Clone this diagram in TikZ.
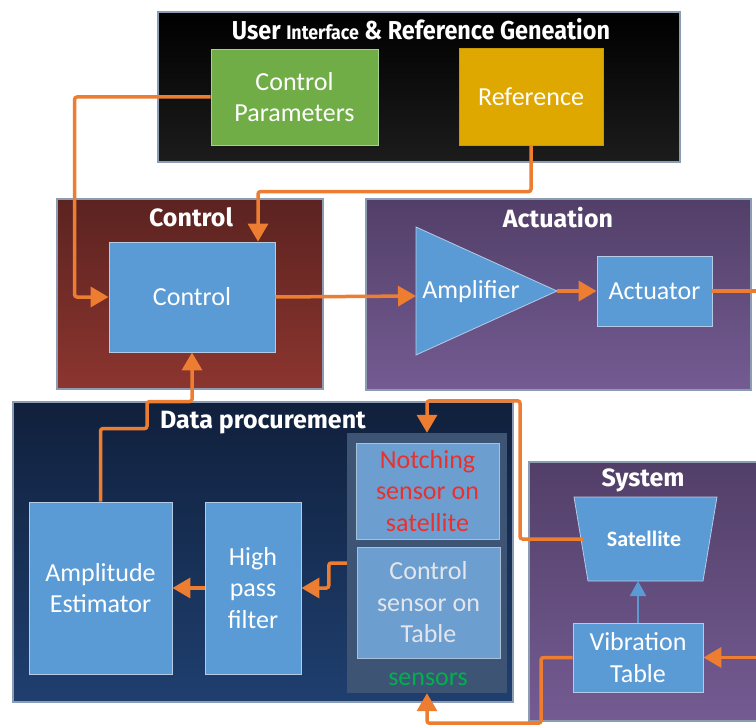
\documentclass[tikz,border=0pt]{standalone}
\usepackage{fontspec}
\usepackage{graphicx}
\setmainfont{Carlito}
\newfontfamily\headfont{Fira Sans}
\usetikzlibrary{arrows.meta}

\definecolor{flow}{HTML}{ED7D31}
\definecolor{blockblue}{HTML}{5B9BD5}
\definecolor{blockedge}{HTML}{B4CBE6}
\definecolor{zoneedge}{HTML}{8C9CB4}
\definecolor{sensblue}{HTML}{6C9FD0}
\definecolor{sensedge}{HTML}{A9C0DA}
\definecolor{grpfill}{HTML}{3E5475}
\definecolor{paramgreen}{HTML}{70AD47}
\definecolor{paramedge}{HTML}{A9D18E}
\definecolor{refgold}{HTML}{DFA800}
\definecolor{refedge}{HTML}{C99A00}
\definecolor{notchred}{HTML}{E8312F}
\definecolor{sensgreen}{HTML}{00B04F}
\definecolor{paletext}{HTML}{E2E6EC}
\definecolor{redtop}{HTML}{5B2320}
\definecolor{redbot}{HTML}{8C352F}
\definecolor{purtop}{HTML}{523F68}
\definecolor{purbot}{HTML}{745B92}
\definecolor{navytop}{HTML}{10203C}
\definecolor{navybot}{HTML}{1F3F6F}
\definecolor{uibot}{HTML}{1C1C1C}

\tikzset{
  zone/.style={draw=zoneedge, line width=1.5pt, inner sep=0pt},
  blockbox/.style={draw=blockedge, line width=0.8pt, fill=blockblue,
    text=white, align=center, inner sep=2pt,
    font=\fontsize{26}{31.5}\selectfont},
  sensbox/.style={blockbox, fill=sensblue, draw=sensedge},
  zonetitle/.style={text=white, anchor=base, inner sep=0pt,
    font=\headfont\bfseries\fontsize{25}{30}\selectfont},
  flowline/.style={draw=flow, line width=3.5pt, rounded corners=2.5pt},
  flowarrow/.style={flowline, -{Triangle[length=18pt,width=20pt]}},
  linkarrow/.style={draw=blockblue, line width=2pt,
    -{Triangle[length=15pt,width=16pt]}},
}

\begin{document}
\begin{tikzpicture}[x=1pt,y=-1pt]
\useasboundingbox[fill=white] (0,0) rectangle (756,725);

% ---------- group frames ----------
\node[zone, top color=black, bottom color=uibot,
      minimum width=522pt, minimum height=150pt] (uizone) at (419,87) {};
\node[zone, top color=redtop, bottom color=redbot,
      minimum width=266pt, minimum height=190pt] (ctlzone) at (190,294) {};
\node[zone, top color=purtop, bottom color=purbot,
      minimum width=385pt, minimum height=191pt] (actzone) at (558.5,294.5) {};
\node[zone, top color=navytop, bottom color=navybot,
      minimum width=500pt, minimum height=300pt] (datazone) at (263,552) {};
\node[zone, top color=purtop, bottom color=purbot,
      minimum width=241pt, minimum height=259pt] (syszone) at (649.5,591.5) {};

% ---------- titles ----------
\node[zonetitle] (uititle) at (421,40)
  {\resizebox{378pt}{21pt}{\headfont\bfseries User {\fontsize{19}{19}\selectfont Interface} \& Reference Geneation}};
\node[zonetitle] (ctltitle) at (191,226) {Control};
\node[zonetitle] (acttitle) at (558,227) {Actuation};
\node[zonetitle] (datatitle) at (263,428) {Data procurement};
\node[zonetitle] (systitle) at (643,486) {System};

% ---------- user interface ----------
\node[blockbox, fill=paramgreen, draw=paramedge,
      minimum width=167pt, minimum height=96pt] (params) at (294.5,97)
  {Control\\Parameters};
\node[blockbox, fill=refgold, draw=refedge,
      minimum width=144pt, minimum height=97pt] (ref) at (531,96.5)
  {Reference};

% ---------- control ----------
\node[blockbox, minimum width=166pt, minimum height=110pt] (ctl) at (192,297) {Control};

% ---------- actuation ----------
\coordinate (ampwest) at (416,296);
\coordinate (amptip) at (557,291);
\fill[blockblue, draw=blockedge, line width=0.8pt]
  (416,227) -- (amptip) -- (416,355) -- cycle;
\node[text=white, font=\fontsize{26}{31.5}\selectfont] (amplabel) at (471,292) {Amplifier};
\node[blockbox, minimum width=115pt, minimum height=70pt] (act) at (654.5,291) {Actuator};
\coordinate (actout) at (756,291);

% ---------- data procurement ----------
\node[fill=grpfill, inner sep=0pt, minimum width=160pt, minimum height=260pt] (sens) at (427,563) {};
\node[sensbox, text=notchred, minimum width=143pt, minimum height=96pt] (notch) at (427.5,491)
  {Notching\\sensor on\\satellite};
\node[sensbox, text=paletext, minimum width=143pt, minimum height=111pt] (ctlsens) at (428.5,602.5)
  {Control\\sensor on\\Table};
\node[text=sensgreen, anchor=base, inner sep=0pt, font=\fontsize{26}{31.5}\selectfont] (senslabel) at (428,685) {sensors};
\node[blockbox, minimum width=143pt, minimum height=172pt] (ampest) at (100.5,588)
  {Amplitude\\Estimator};
\node[blockbox, minimum width=96pt, minimum height=172pt] (hpf) at (253,588)
  {High\\pass\\filter};

% ---------- system ----------
\fill[blockblue, draw=blockedge, line width=0.8pt]
  (574,497) -- (717,497) -- (703,581) -- (588,581) -- cycle;
\coordinate (satbottom) at (638,581);
\coordinate (satwest) at (583,539);
\node[text=white, font=\bfseries\fontsize{22}{26}\selectfont] (satlabel) at (644,539) {Satellite};
\node[blockbox, minimum width=130pt, minimum height=69pt] (vib) at (638,657.5)
  {Vibration\\Table};
\coordinate (sysin) at (756,657.5);

% ---------- connectors ----------
\draw[flowarrow] (params.west) -| ([xshift=-34pt]ctl.west) -- (ctl.west);
\draw[flowarrow] (ref.south) |- ([xshift=66pt,yshift=50pt]ctl.north) -- ([xshift=66pt]ctl.north);
\draw[flowarrow] (ctl.east) -- (ampwest);
\draw[flowarrow] (amptip) -- (act.west);
\draw[flowline] (act.east) -- (actout);
\draw[flowarrow] (sysin) -- (vib.east);
\draw[flowarrow] (satwest) -| ([xshift=93pt,yshift=32pt]sens.north) -| (sens.north);
\draw[flowarrow] (vib.west) -| ([xshift=114pt,yshift=-30pt]sens.south) -| (sens.south);
\draw[flowarrow] (sens.west) -- ++(-18,0) |- (hpf.east);
\draw[flowarrow] (hpf.west) -- (ampest.east);
\draw[flowarrow] (ampest.north) -- ++(0,-73) -- ++(46.5,0) -- ++(0,-27) -| (ctl.south);
\draw[linkarrow] (vib.north) -- (satbottom);
\end{tikzpicture}
\end{document}
